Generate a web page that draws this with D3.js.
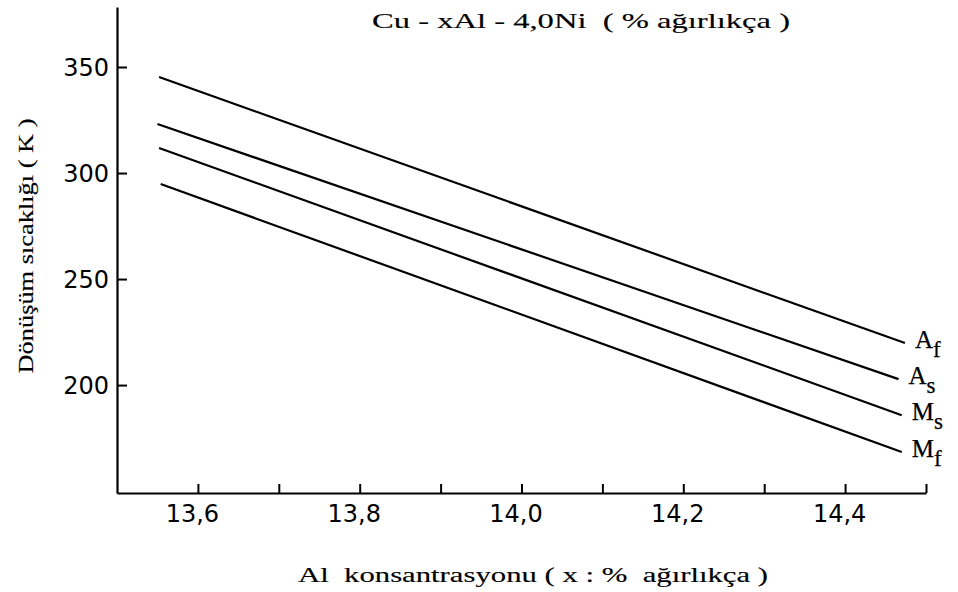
<!DOCTYPE html>
<html><head><meta charset="utf-8">
<script src="https://cdn.jsdelivr.net/npm/d3@7"></script>
<style>
body{margin:0;background:#fff;}
svg{display:block;}
</style></head>
<body>
<svg id="chart" width="958" height="592"></svg>
<script>
// ---- data ----
const seriesNames = ["Af", "As", "Ms", "Mf"];
const seriesMain = ["A", "A", "M", "M"];
const seriesSub = ["f", "s", "s", "f"];
const xStart = [13.552, 13.550, 13.552, 13.554];
const xEnd = [14.474, 14.466, 14.470, 14.470];
const yStart = [345.3, 323.1, 311.8, 294.8];
const yEnd = [219.8, 202.8, 185.8, 168.4];
const yTickValues = [200, 250, 300, 350];
const yTickLabels = ["200", "250", "300", "350"];
const xTickValues = [13.6, 13.7, 13.8, 13.9, 14.0, 14.1, 14.2, 14.3, 14.4, 14.5];
const xTickLabels = ["13,6", "", "13,8", "", "14,0", "", "14,2", "", "14,4", ""];
const titleText = "Cu - xAl - 4,0Ni  ( % ağırlıkça )";
const xTitle = "Al  konsantrasyonu ( x : %  ağırlıkça )";
const yTitle = "Dönüşüm sıcaklığı ( K )";

// ---- layout ----
const svg = d3.select("#chart");
const x = d3.scaleLinear().domain([13.5, 14.5]).range([117, 926]);
const y = d3.scaleLinear().domain([149.1, 378.3]).range([493, 7]);
const serif = "'Liberation Serif', 'DejaVu Serif', serif";
const sans = "'DejaVu Sans', sans-serif";

// y axis
const yAxis = d3.axisLeft(y).tickValues(yTickValues)
  .tickFormat((d, i) => yTickLabels[i]).tickSizeInner(-10).tickSizeOuter(0).tickPadding(8);
const gy = svg.append("g").attr("transform", `translate(${x(13.5)},0)`).call(yAxis);
gy.select(".domain").attr("stroke", "#000").attr("stroke-width", 2.2);
gy.selectAll(".tick line").attr("stroke", "#000").attr("stroke-width", 2);
gy.selectAll(".tick text").attr("font-family", sans).attr("font-size", 24).attr("fill", "#000").attr("dy", "0.36em");

// x axis
const xAxis = d3.axisBottom(x).tickValues(xTickValues)
  .tickFormat((d, i) => xTickLabels[i]).tickSizeInner(-9).tickSizeOuter(0).tickPadding(12);
const gx = svg.append("g").attr("transform", `translate(0,${y(149.1)})`).call(xAxis);
gx.select(".domain").attr("stroke", "#000").attr("stroke-width", 2.2);
gx.selectAll(".tick line").attr("stroke", "#000").attr("stroke-width", 2);
gx.selectAll(".tick text").attr("font-family", sans).attr("font-size", 24).attr("fill", "#000").attr("dx", -6);

// lines
const line = d3.line().x(d => x(d[0])).y(d => y(d[1]));
seriesNames.forEach((name, i) => {
  svg.append("path")
    .datum([[xStart[i], yStart[i]], [xEnd[i], yEnd[i]]])
    .attr("d", line)
    .attr("fill", "none")
    .attr("stroke", "#000")
    .attr("stroke-width", 2.2);
  const t = svg.append("text")
    .attr("x", x(xEnd[i]) + 10)
    .attr("y", y(yEnd[i]) + 5)
    .attr("font-family", serif)
    .attr("font-size", 25)
    .attr("stroke", "#000").attr("stroke-width", 0.25)
    .attr("fill", "#000");
  t.append("tspan").text(seriesMain[i]);
  t.append("tspan").attr("dy", 9).attr("font-size", 23).text(seriesSub[i]);
});

// titles
function title(txt, tx, ty, len, rot) {
  svg.append("text")
    .attr("transform", `translate(${tx},${ty})` + (rot ? " rotate(-90)" : ""))
    .attr("text-anchor", "middle")
    .attr("font-family", serif).attr("font-size", 22).attr("fill", "#000")
    .attr("stroke", "#000").attr("stroke-width", 0.15)
    .attr("textLength", len).attr("lengthAdjust", "spacingAndGlyphs")
    .style("white-space", "pre")
    .text(txt);
}
title(titleText, 581, 28, 418, false);
title(xTitle, 533, 582, 470, false);
title(yTitle, 33, 246, 255, true);
</script>
</body></html>
